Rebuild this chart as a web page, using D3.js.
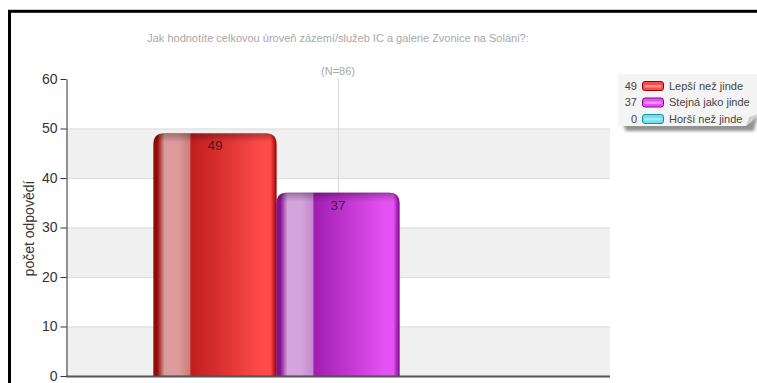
<!DOCTYPE html>
<html>
<head>
<meta charset="utf-8">
<script src="https://cdn.jsdelivr.net/npm/d3@7"></script>
<style>
  html, body { margin: 0; padding: 0; background: #fff; }
  svg { display: block; font-family: "Liberation Sans", Arial, sans-serif; }
</style>
</head>
<body>
<svg id="chart" width="757" height="383"></svg>
<script>
// Survey answers: "Jak hodnotíte celkovou úroveň zázemí/služeb IC a galerie Zvonice na Soláni?"
const categories = ["Lepší než jinde", "Stejná jako jinde", "Horší než jinde"];
const values = [49, 37, 0];
const yTicks = [0, 10, 20, 30, 40, 50, 60];
const titleText = "Jak hodnotíte celkovou úroveň zázemí/služeb IC a galerie Zvonice na Soláni?:";
const countText = "(N=86)";
const yLabel = "počet odpovědí";

// colour ramps for the glossy cylinders
const palettes = [
  { edge: "#930808", hi: "#dc9c9c", hi2: "#d27a7a", base: "#bf1e1e", bright: "#ff4a4a", edgeR: "#a00000" },
  { edge: "#851090", hi: "#d4a4dc", hi2: "#c688d0", base: "#a01eb0", bright: "#e452f4", edgeR: "#800890" },
  { edge: "#1a8aa0", hi: "#b4e8f0", hi2: "#90d8e6", base: "#30b0c8", bright: "#6ee0f0", edgeR: "#1890a8" }
];

const svg = d3.select("#chart");
const W = 757, H = 383;
const margin = { left: 66, right: 147, top: 79, bottom: 7 };
const plotW = W - margin.left - margin.right;
const plotH = H - margin.top - margin.bottom;

const defs = svg.append("defs");
palettes.forEach((p, i) => {
  const g = defs.append("linearGradient").attr("id", "bar" + i)
    .attr("x1", "0%").attr("x2", "100%").attr("y1", "0%").attr("y2", "0%");
  [[0, p.edge], [0.03, p.edge], [0.09, p.hi], [0.2, p.hi], [0.295, p.hi2], [0.305, p.base],
   [0.88, p.bright], [0.95, p.bright], [1, p.edgeR]].forEach(([o, c]) =>
    g.append("stop").attr("offset", o).attr("stop-color", c));
});
// darker cap at the top of each bar
const cap = defs.append("linearGradient").attr("id", "cap").attr("x1", 0).attr("x2", 0).attr("y1", 0).attr("y2", 1);
cap.append("stop").attr("offset", 0).attr("stop-color", "#000").attr("stop-opacity", 0.28);
cap.append("stop").attr("offset", 1).attr("stop-color", "#000").attr("stop-opacity", 0);
const blur = defs.append("filter").attr("id", "shadow").attr("x", "-20%").attr("y", "-40%")
  .attr("width", "140%").attr("height", "180%");
blur.append("feGaussianBlur").attr("stdDeviation", 1.6);

// outer frame
svg.append("rect").attr("x", 9.5).attr("y", 11.3).attr("width", 900).attr("height", 500)
  .attr("fill", "none").attr("stroke", "#000").attr("stroke-width", 3);

// title
svg.append("text").attr("x", margin.left + plotW / 2).attr("y", 42)
  .attr("text-anchor", "middle").attr("font-size", 11).attr("fill", "#a8a8a8")
  .text(titleText);

const y = d3.scaleLinear().domain([0, 60]).range([margin.top + plotH, margin.top]);
const group = d3.scaleBand().domain(["g"]).range([margin.left, margin.left + plotW]).paddingInner(0).paddingOuter(0.237);
const x = d3.scaleBand().domain(categories).range([group("g"), group("g") + group.bandwidth()]);

const plot = svg.append("g");

// alternating bands between ticks
plot.selectAll("rect.band").data(yTicks.slice(0, -1).filter((d, i) => i % 2 === 0))
  .join("rect").attr("class", "band")
  .attr("x", margin.left).attr("width", plotW)
  .attr("y", d => y(d + 10)).attr("height", d => y(d) - y(d + 10))
  .attr("fill", "#f0f0f0");

// horizontal grid
plot.selectAll("line.grid").data(yTicks.filter(d => d > 0 && d < 60)).join("line")
  .attr("class", "grid")
  .attr("x1", margin.left).attr("x2", margin.left + plotW)
  .attr("y1", d => y(d) + 0.5).attr("y2", d => y(d) + 0.5)
  .attr("stroke", "#dcdcdc").attr("stroke-width", 1);

// category divider through the group centre
const cx = group("g") + group.bandwidth() / 2;
plot.append("line").attr("x1", Math.round(cx) + 0.5).attr("x2", Math.round(cx) + 0.5)
  .attr("y1", y(60)).attr("y2", y(0)).attr("stroke", "#d8d8d8").attr("stroke-width", 1);

svg.append("text").attr("x", cx).attr("y", 75).attr("text-anchor", "middle")
  .attr("font-size", 11).attr("fill", "#a8a8a8").text(countText);

// y axis
const yAxis = d3.axisLeft(y).tickValues(yTicks).tickSize(6).tickPadding(3).tickSizeOuter(0);
const ya = svg.append("g").attr("transform", `translate(${margin.left + 0.5},0)`).call(yAxis);
ya.select(".domain").attr("stroke", "#333");
ya.selectAll(".tick line").attr("stroke", "#333");
ya.selectAll(".tick text").attr("font-size", 14).attr("fill", "#333")
  .attr("font-family", "'Liberation Sans', Arial, sans-serif");

svg.append("text").attr("transform", `translate(34,${y(30) + 1}) rotate(-90)`)
  .attr("text-anchor", "middle").attr("font-size", 14).attr("fill", "#333").text(yLabel);

// bars with rounded tops
function barPath(x0, w, top, bottom, r) {
  const h = bottom - top;
  if (h <= 0) return "";
  r = Math.min(r, h, w / 2);
  return `M${x0},${bottom}V${top + r}Q${x0},${top} ${x0 + r},${top}H${x0 + w - r}Q${x0 + w},${top} ${x0 + w},${top + r}V${bottom}Z`;
}
const data = categories.map((c, i) => ({ c, v: values[i], i }));
const shown = data.filter(d => d.v > 0);
plot.selectAll("path.bar").data(shown).join("path")
  .attr("class", "bar")
  .attr("d", d => barPath(x(d.c), x.bandwidth(), y(d.v), y(0), 11))
  .attr("fill", d => `url(#bar${d.i})`)
  .attr("stroke", d => palettes[d.i].edgeR).attr("stroke-opacity", 0.35).attr("stroke-width", 0.8);
plot.selectAll("path.cap").data(shown).join("path")
  .attr("class", "cap")
  .attr("d", d => barPath(x(d.c), x.bandwidth(), y(d.v), y(d.v) + 9, 11))
  .attr("fill", "url(#cap)");

plot.selectAll("text.val").data(shown).join("text")
  .attr("class", "val")
  .attr("x", d => x(d.c) + x.bandwidth() / 2).attr("y", d => y(d.v) + 17)
  .attr("text-anchor", "middle").attr("font-size", 13.5).attr("fill", "#2a0a1a").attr("fill-opacity", 0.8)
  .text(d => d.v);

// baseline
svg.append("line").attr("x1", margin.left).attr("x2", margin.left + plotW)
  .attr("y1", y(0) + 0.5).attr("y2", y(0) + 0.5).attr("stroke", "#555").attr("stroke-width", 2);

// legend
const lg = svg.append("g").attr("transform", "translate(618,74)");
lg.append("path").attr("d", "M4,48 L132,48 L140,40 L136,57 L8,57 Z").attr("fill", "#777")
  .attr("filter", "url(#shadow)").attr("opacity", 0.8);
lg.append("path").attr("d", "M0,0 H140 V40 L128,52 H0 Z").attr("fill", "#f4f4f4");
lg.append("path").attr("d", "M128,52 L140,40 L131,43 Z").attr("fill", "#cfcfcf");
const items = lg.selectAll("g.item").data(data).join("g").attr("class", "item")
  .attr("transform", (d, i) => `translate(0,${12 + i * 16.5})`);
items.append("text").attr("x", 19).attr("y", 0).attr("dy", "0.35em").attr("text-anchor", "end")
  .attr("font-size", 11).attr("fill", "#444").text(d => d.v);
items.append("rect").attr("x", 24.5).attr("y", -4.5).attr("width", 21).attr("height", 9).attr("rx", 2.5)
  .attr("fill", d => palettes[d.i].bright).attr("stroke", d => palettes[d.i].edgeR).attr("stroke-width", 1);
items.append("rect").attr("x", 26.5).attr("y", -1).attr("width", 17).attr("height", 2.5)
  .attr("fill", "#fff").attr("opacity", 0.4);
items.append("text").attr("x", 51).attr("y", 0).attr("dy", "0.35em")
  .attr("font-size", 11).attr("fill", "#444").text(d => d.c);
</script>
</body>
</html>
